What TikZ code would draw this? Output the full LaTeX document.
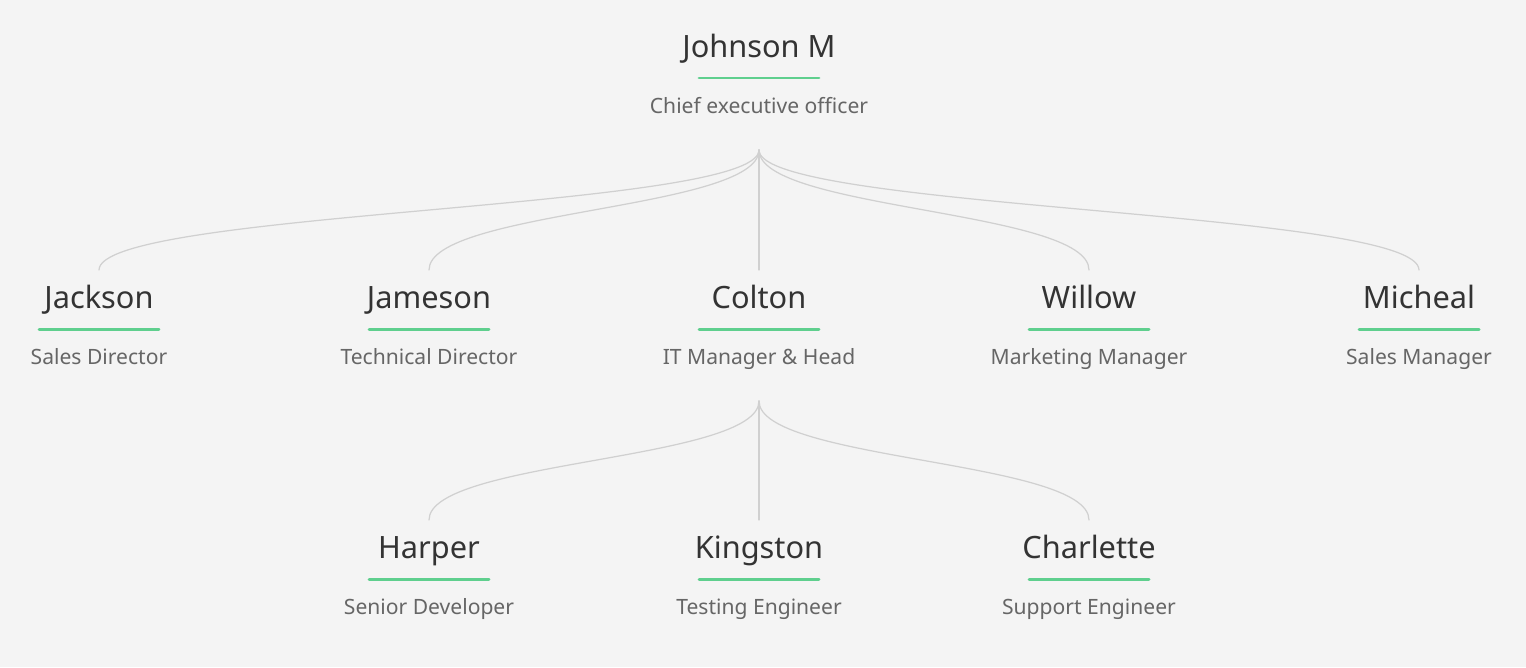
\documentclass[tikz,border=0pt]{standalone}
\usepackage{fontspec}
\setmainfont{Noto Sans}
\definecolor{bgcol}{HTML}{F4F4F4}
\definecolor{namecol}{HTML}{333333}
\definecolor{rolecol}{HTML}{666666}
\definecolor{barcol}{HTML}{5FCF8E}
\definecolor{linkcol}{HTML}{D0D0D0}
\tikzset{
  pname/.style={anchor=base, inner sep=0pt, text=namecol, font=\fontsize{17.5}{22}\selectfont},
  prole/.style={anchor=base, inner sep=0pt, text=rolecol, font=\fontsize{12}{14}\selectfont},
  bar/.style={draw=barcol, line width=1.7pt},
  link/.style={draw=linkcol, line width=0.7pt},
}
\begin{document}
\begin{tikzpicture}[x=0.02cm, y=-0.02cm, line cap=round]
    \fill[bgcol] (0,0) rectangle (1526,667);
    \useasboundingbox (0,0) rectangle (1526,667);
    % people: id/x/baseline/name/role
    \foreach \id/\x/\y/\n/\r in {ceo/759/57/Johnson M/Chief executive officer,
        jack/99/308/Jackson/Sales Director, jame/429/308/Jameson/Technical Director,
        colt/759/308/Colton/IT Manager \& Head, will/1089/308/Willow/Marketing Manager,
        mich/1419/308/Micheal/Sales Manager,
        harp/429/558/Harper/Senior Developer, king/759/558/Kingston/Testing Engineer,
        charl/1089/558/Charlette/Support Engineer}
    {
        \node[pname] (\id) at (\x,\y) {\n};
        \draw[bar] (\x-60,\y+21) -- (\x+60,\y+21);
        \node[prole] (\id-role) at (\x,\y+56) {\r};
        \coordinate (\id-top) at (\x,\y-38);
        \coordinate (\id-bot) at (\x,\y+93);
    }
    % links
    \foreach \c in {jack,jame,colt,will,mich}
    \draw[link] (ceo-bot) .. controls +(0,60) and +(0,-60) .. (\c-top);
    \foreach \c in {harp,king,charl}
    \draw[link] (colt-bot) .. controls +(0,60) and +(0,-60) .. (\c-top);
\end{tikzpicture}
\end{document}
